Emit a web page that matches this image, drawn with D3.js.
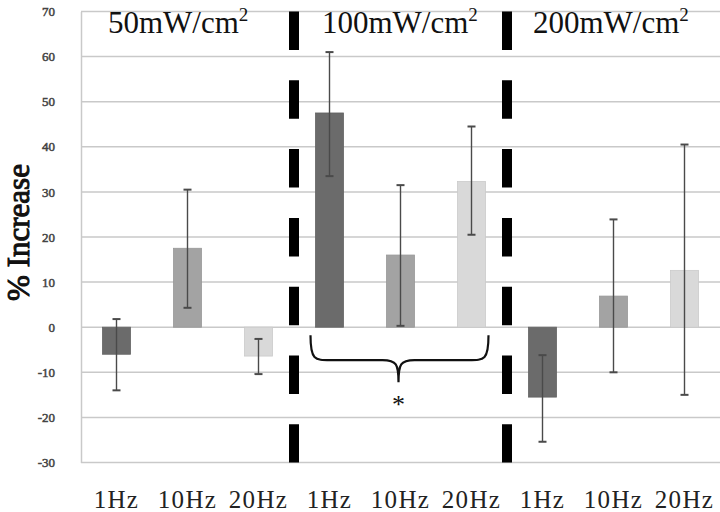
<!DOCTYPE html>
<html>
<head>
<meta charset="utf-8">
<script src="https://cdn.jsdelivr.net/npm/d3@7"></script>
<style>
  body { margin: 0; background: #fff; }
  text { font-family: "Liberation Serif", "Times New Roman", serif; }
</style>
</head>
<body>
<div id="chart"></div>
<script>
// data
const groups = ["50", "100", "200"];
const freqs = ["1Hz", "10Hz", "20Hz"];
const means = [-6, 17.5, -6.4, 47.5, 16, 32.3, -15.5, 6.9, 12.6];
const errHigh = [1.8, 30.5, -2.6, 61, 31.5, 44.5, -6.2, 23.9, 40.5];
const errLow = [-14, 4.3, -10.4, 33.5, 0.3, 20.5, -25.4, -10, -15];
const yTicks = [-30, -20, -10, 0, 10, 20, 30, 40, 50, 60, 70];

const svgWidth = 720;
const svgHeight = 512;
const margin = { top: 11.5, right: 0, bottom: 49.5, left: 81 };
const width = svgWidth - margin.left - margin.right;
const height = svgHeight - margin.top - margin.bottom;

const colors = { "1Hz": "#6b6b6b", "10Hz": "#a3a3a3", "20Hz": "#d9d9d9" };

const rows = [];
groups.forEach((g, gi) => {
  freqs.forEach((f, fi) => {
    const i = gi * 3 + fi;
    rows.push({ key: g + "-" + f, group: g, freq: f, v: means[i], hi: errHigh[i], lo: errLow[i] });
  });
});

const svg = d3.select("#chart")
  .append("svg")
  .attr("width", svgWidth)
  .attr("height", svgHeight);

const chartGroup = svg.append("g")
  .attr("transform", `translate(${margin.left}, ${margin.top})`);

const x = d3.scaleBand()
  .domain(rows.map(d => d.key))
  .range([0, width])
  .paddingInner(0.6)
  .paddingOuter(0.3);

const step = x.step();

const y = d3.scaleLinear()
  .domain([-30, 70])
  .range([height, 0]);

// gridlines
chartGroup.append("g")
  .selectAll("line")
  .data(yTicks)
  .enter()
  .append("line")
  .attr("x1", 0)
  .attr("x2", width)
  .attr("y1", d => y(d))
  .attr("y2", d => y(d))
  .attr("stroke", "#c9c9c9")
  .attr("stroke-width", 1.5);

// left axis
const leftAxis = d3.axisLeft(y)
  .tickValues(yTicks)
  .tickFormat(d => String(d))
  .tickSize(0)
  .tickPadding(26);
const yAxis = chartGroup.append("g").call(leftAxis);
yAxis.select(".domain").attr("stroke", "#c9c9c9").attr("stroke-width", 1.5);
yAxis.selectAll("text")
  .style("font-family", "'Liberation Serif', serif")
  .style("font-size", "13px")
  .attr("fill", "#444")
  .attr("stroke", "#444")
  .attr("stroke-width", 0.5);

// bars
const cx = d => x(d.key) + x.bandwidth() / 2;
chartGroup.selectAll("rect.bar")
  .data(rows)
  .enter()
  .append("rect")
  .attr("class", "bar")
  .attr("x", d => cx(d) - 14)
  .attr("width", 28)
  .attr("y", d => y(Math.max(0, d.v)))
  .attr("height", d => Math.abs(y(d.v) - y(0)))
  .attr("fill", d => colors[d.freq])
  .attr("stroke", d => d3.color(colors[d.freq]).darker(0.2))
  .attr("stroke-width", 0.8);

// error bars
const errG = chartGroup.append("g")
  .attr("stroke", "#4a4a4a")
  .attr("stroke-width", 1.4);
errG.selectAll("line.stem")
  .data(rows)
  .enter()
  .append("line")
  .attr("x1", cx).attr("x2", cx)
  .attr("y1", d => y(d.hi)).attr("y2", d => y(d.lo));
["hi", "lo"].forEach(k => {
  errG.selectAll("line.cap-" + k)
    .data(rows)
    .enter()
    .append("line")
    .attr("x1", d => cx(d) - 4).attr("x2", d => cx(d) + 4)
    .attr("y1", d => y(d[k])).attr("y2", d => y(d[k]))
    .attr("stroke-width", 2);
});

// dashed dividers between intensity groups
[3, 6].forEach(i => {
  const bx = x(rows[i].key) - step * x.paddingInner() / 2;
  chartGroup.append("line")
    .attr("x1", bx).attr("x2", bx)
    .attr("y1", y(70)).attr("y2", y(-30))
    .attr("stroke", "#000")
    .attr("stroke-width", 10)
    .attr("stroke-dasharray", "38.5 30.3");
});

// group headers
const headerX = [108, 322, 533];
groups.forEach((g, gi) => {
  const t = svg.append("text")
    .attr("x", headerX[gi])
    .attr("y", 33)
    .attr("font-size", "31px")
    .attr("fill", "#111");
  t.append("tspan").text(g + "mW/cm");
  t.append("tspan").attr("dy", -12).attr("font-size", "19px").text("2");
});

// x labels
chartGroup.selectAll("text.xlab")
  .data(rows)
  .enter()
  .append("text")
  .attr("class", "xlab")
  .attr("x", cx)
  .attr("y", height + 45)
  .attr("text-anchor", "middle")
  .attr("font-size", "25px")
  .attr("letter-spacing", "1.3px")
  .attr("fill", "#222")
  .text(d => d.freq);

// y title
svg.append("text")
  .attr("transform", `translate(29, ${margin.top + y(21)}) rotate(-90)`)
  .attr("text-anchor", "middle")
  .attr("font-size", "31px")
  .attr("fill", "#111")
  .attr("stroke", "#111")
  .attr("stroke-width", 1)
  .text("% Increase");

// significance brace under the 100 mW/cm2 group
const xl = cx(rows[3]) - 19;
const xr = cx(rows[5]) + 17;
const xm = cx(rows[4]) - 2;
const yt = y(-1.8), ymid = y(-7.3), yp = y(-12.2);
const brace = d3.path();
brace.moveTo(xl, yt);
brace.bezierCurveTo(xl, ymid, xl + 4, ymid, xl + 20, ymid);
brace.lineTo(xm - 16, ymid);
brace.bezierCurveTo(xm - 2, ymid, xm, ymid + 4, xm, yp);
brace.bezierCurveTo(xm, ymid + 4, xm + 2, ymid, xm + 16, ymid);
brace.lineTo(xr - 20, ymid);
brace.bezierCurveTo(xr - 4, ymid, xr, ymid, xr, yt);
chartGroup.append("path")
  .attr("d", brace.toString())
  .attr("fill", "none")
  .attr("stroke", "#111")
  .attr("stroke-width", 2.2);

chartGroup.append("text")
  .attr("x", xm)
  .attr("y", y(-19))
  .attr("text-anchor", "middle")
  .attr("font-size", "26px")
  .attr("fill", "#111")
  .text("*");
</script>
</body>
</html>
